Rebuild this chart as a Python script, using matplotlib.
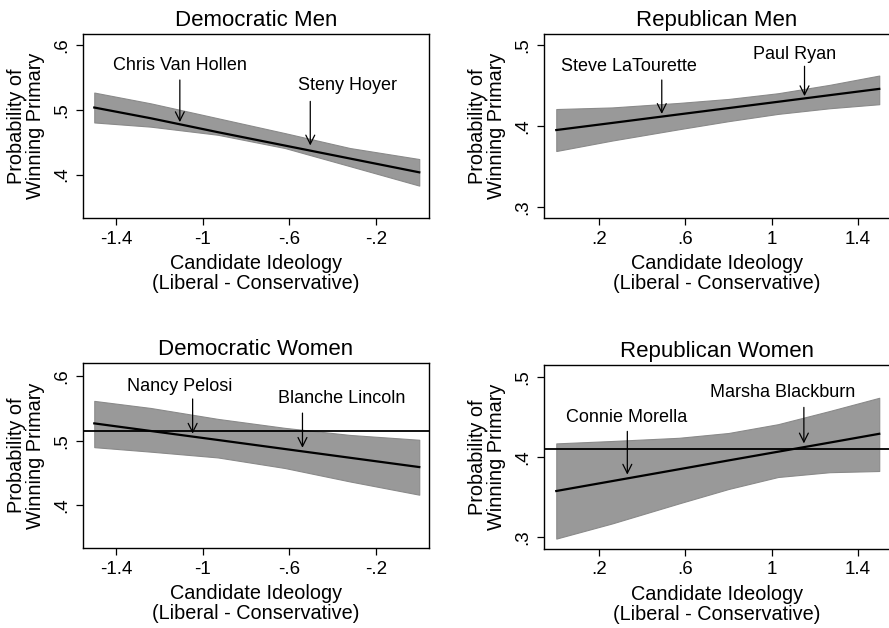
import numpy as np
import matplotlib.pyplot as plt

plt.rcParams['font.family'] = ['Liberation Sans', 'DejaVu Sans']

# Democratic panels: ideology from -1.5 to 0
dem_x = [-1.5, -1.24, -0.93, -0.62, -0.32, 0.0]
dm_fit = [0.5035, 0.487, 0.4655, 0.4448, 0.4248, 0.4035]
dm_hi = [0.5266, 0.510, 0.487, 0.464, 0.441, 0.424]
dm_lo = [0.4805, 0.474, 0.4615, 0.441, 0.413, 0.383]

dw_fit = [0.527, 0.5152, 0.5012, 0.4871, 0.4735, 0.459]
dw_hi = [0.562, 0.551, 0.534, 0.520, 0.509, 0.5015]
dw_lo = [0.490, 0.483, 0.474, 0.4575, 0.4366, 0.416]

# Republican panels: ideology from 0 to 1.5
rep_x = [0.0, 0.26, 0.57, 0.8, 1.03, 1.27, 1.5]
rm_fit = [0.395, 0.4038, 0.4144, 0.4222, 0.430, 0.4382, 0.446]
rm_hi = [0.421, 0.423, 0.4286, 0.4335, 0.4406, 0.451, 0.4625]
rm_lo = [0.369, 0.382, 0.396, 0.406, 0.415, 0.422, 0.427]

rw_fit = [0.3575, 0.3699, 0.3847, 0.3957, 0.4066, 0.418, 0.429]
rw_hi = [0.417, 0.420, 0.424, 0.430, 0.441, 0.4575, 0.474]
rw_lo = [0.298, 0.317, 0.342, 0.360, 0.375, 0.381, 0.3825]

# reference lines (bottom panels)
dw_ref = 0.5145
rw_ref = 0.410

dem_ticks = [-1.4, -1.0, -0.6, -0.2]
dem_ticklabels = ['-1.4', '-1', '-.6', '-.2']
rep_ticks = [0.2, 0.6, 1.0, 1.4]
rep_ticklabels = ['.2', '.6', '1', '1.4']
dem_yticks = [0.4, 0.5, 0.6]
dem_yticklabels = ['.4', '.5', '.6']
rep_yticks = [0.3, 0.4, 0.5]
rep_yticklabels = ['.3', '.4', '.5']

# annotations: (name, text x, text y, arrow x, arrow start y, arrow head y)
dm_notes = [('Chris Van Hollen', -1.105, 0.569, -1.105, 0.546, 0.481),
            ('Steny Hoyer', -0.33, 0.537, -0.503, 0.513, 0.445)]
rm_notes = [('Steve LaTourette', 0.338, 0.474, 0.49, 0.457, 0.415),
            ('Paul Ryan', 1.106, 0.489, 1.153, 0.474, 0.437)]
dw_notes = [('Nancy Pelosi', -1.108, 0.584, -1.046, 0.565, 0.511),
            ('Blanche Lincoln', -0.36, 0.565, -0.539, 0.543, 0.489)]
rw_notes = [('Connie Morella', 0.325, 0.449, 0.33, 0.432, 0.378),
            ('Marsha Blackburn', 1.05, 0.481, 1.15, 0.462, 0.417)]

W, H = 889, 628
fig = plt.figure(figsize=(W / 100, H / 100), dpi=100)


def make_ax(l, t, r, b):
    return fig.add_axes([l / W, 1 - b / H, (r - l) / W, (b - t) / H])


def draw_panel(ax, title, x, fit, lo, hi, notes, xlim, ylim, xt, xtl, yt, ytl, ref=None):
    ax.fill_between(x, lo, hi, facecolor='#999999', edgecolor='#8a8a8a', linewidth=0.8, zorder=1)
    ax.plot(x, fit, color='black', linewidth=1.6, zorder=3)
    if ref is not None:
        ax.axhline(ref, color='black', linewidth=1.3, zorder=2)
    for name, tx, ty, axx, y0, y1 in notes:
        ax.text(tx, ty, name, ha='center', va='center', fontsize=13, zorder=4)
        ax.annotate('', xy=(axx, y1), xytext=(axx, y0),
                    arrowprops=dict(arrowstyle='->', color='black', lw=0.9,
                                    mutation_scale=16, shrinkA=0, shrinkB=0),
                    zorder=4)
    ax.set_xlim(xlim)
    ax.set_ylim(ylim)
    ax.set_xticks(xt)
    ax.set_xticklabels(xtl)
    ax.set_yticks(yt)
    ax.set_yticklabels(ytl, rotation=90, va='center')
    ax.tick_params(direction='out', length=5, width=0.9, labelsize=13.5, pad=4)
    for s in ax.spines.values():
        s.set_linewidth(1.0)
    ax.set_title(title, fontsize=16, pad=6)
    ax.set_xlabel('Candidate Ideology\n(Liberal - Conservative)', fontsize=14.3,
                  linespacing=1.05, labelpad=5)
    ax.set_ylabel('Probability of\nWinning Primary', fontsize=14.3, linespacing=1.0)
    ax.yaxis.set_label_coords(-0.11, 0.5)


ax1 = make_ax(83, 34, 429, 218)
draw_panel(ax1, 'Democratic Men', dem_x, dm_fit, dm_lo, dm_hi, dm_notes,
           (-1.552, 0.045), (0.333, 0.617), dem_ticks, dem_ticklabels,
           dem_yticks, dem_yticklabels)

ax2 = make_ax(544, 34, 890, 218)
draw_panel(ax2, 'Republican Men', rep_x, rm_fit, rm_lo, rm_hi, rm_notes,
           (-0.057, 1.55), (0.286, 0.514), rep_ticks, rep_ticklabels,
           rep_yticks, rep_yticklabels)

ax3 = make_ax(83, 363, 429, 548)
draw_panel(ax3, 'Democratic Women', dem_x, dw_fit, dw_lo, dw_hi, dw_notes,
           (-1.552, 0.045), (0.333, 0.621), dem_ticks, dem_ticklabels,
           dem_yticks, dem_yticklabels, ref=dw_ref)

ax4 = make_ax(544, 365, 890, 549)
draw_panel(ax4, 'Republican Women', rep_x, rw_fit, rw_lo, rw_hi, rw_notes,
           (-0.057, 1.55), (0.285, 0.515), rep_ticks, rep_ticklabels,
           rep_yticks, rep_yticklabels, ref=rw_ref)

fig.savefig('out.png', dpi=100)
